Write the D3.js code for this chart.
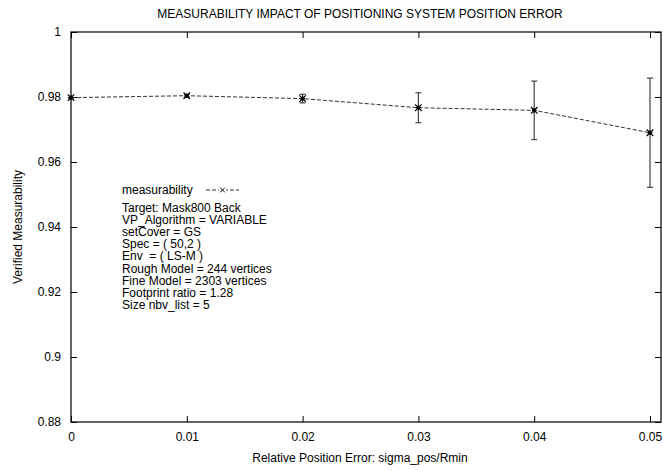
<!DOCTYPE html>
<html>
<head>
<meta charset="utf-8">
<script src="https://cdn.jsdelivr.net/npm/d3@7"></script>
<style>
  body { margin: 0; background: #fff; }
  text { font-family: "Liberation Sans", Arial, sans-serif; fill: #000; }
</style>
</head>
<body>
<script>
// data
var xVals = [0, 0.01, 0.02, 0.03, 0.04, 0.05];
var yVals = [0.9798, 0.9804, 0.9795, 0.9767, 0.9759, 0.9690];
var yErr  = [0.0001, 0.0004, 0.0013, 0.0046, 0.0090, 0.0168];
var xTicks = [0, 0.01, 0.02, 0.03, 0.04, 0.05];
var yTicks = [0.88, 0.9, 0.92, 0.94, 0.96, 0.98, 1];
var notes = ["Target: Mask800 Back", "VP_Algorithm = VARIABLE", "setCover = GS",
             "Spec = ( 50,2 )", "Env  = ( LS-M )", "Rough Model = 244 vertices",
             "Fine Model = 2303 vertices", "Footprint ratio = 1.28", "Size nbv_list = 5"];

var width = 663, height = 470;
var margin = {left: 71, right: 2, top: 32, bottom: 48};
var w = width - margin.left - margin.right;
var h = height - margin.top - margin.bottom;

var svg = d3.select("body").append("svg")
            .attr("width", width).attr("height", height);

var x = d3.scaleLinear().domain([0, 0.05095]).range([0, w]);
var y = d3.scaleLinear().domain([0.88, 1]).range([h, 0]);

var g = svg.append("g")
           .attr("transform", "translate(" + margin.left + "," + margin.top + ")");

function fmt(d) { return d === 0 ? "0" : d3.format("")(+d.toFixed(2)); }

var xAxis = d3.axisBottom(x).tickValues(xTicks).tickSize(-6).tickPadding(10).tickFormat(fmt);
var yAxis = d3.axisLeft(y).tickValues(yTicks).tickSize(-6).tickPadding(10).tickFormat(fmt);

g.append("g").attr("transform", "translate(0," + h + ")").call(xAxis);
g.append("g").call(yAxis);
// mirrored ticks on top and right
g.append("g").call(d3.axisTop(x).tickValues(xTicks).tickSize(-6).tickFormat(""));
g.append("g").attr("transform", "translate(" + w + ",0)")
 .call(d3.axisRight(y).tickValues(yTicks).tickSize(-6).tickFormat(""));

g.selectAll(".domain").remove();
g.selectAll(".tick line").attr("stroke", "#000");
g.selectAll(".tick text").attr("font-size", 12).attr("font-family", "Liberation Sans, Arial, sans-serif");

g.append("rect").attr("width", w).attr("height", h)
 .attr("fill", "none").attr("stroke", "#000").attr("stroke-width", 1.2);

// dashed line through points
var pts = xVals.map(function(d, i) { return [d, yVals[i], yErr[i]]; });
var line = d3.line().x(function(d){ return x(d[0]); }).y(function(d){ return y(d[1]); });
g.append("path").attr("d", line(pts)).attr("fill", "none")
 .attr("stroke", "#333").attr("stroke-width", 1).attr("stroke-dasharray", "4,2");

// error bars
var eb = g.selectAll(".eb").data(pts).enter().append("g");
eb.append("line")
  .attr("x1", function(d){ return x(d[0]); }).attr("x2", function(d){ return x(d[0]); })
  .attr("y1", function(d){ return y(d[1] - d[2]); }).attr("y2", function(d){ return y(d[1] + d[2]); })
  .attr("stroke", "#444").attr("stroke-width", 1.2);
[-1, 1].forEach(function(s) {
  eb.append("line")
    .attr("x1", function(d){ return x(d[0]) - 3; }).attr("x2", function(d){ return x(d[0]) + 3; })
    .attr("y1", function(d){ return y(d[1] + s * d[2]); }).attr("y2", function(d){ return y(d[1] + s * d[2]); })
    .attr("stroke", "#444").attr("stroke-width", 1.2);
});

// star markers
var star = d3.symbol().type(d3.symbolTimes).size(30);
g.selectAll(".pt").data(pts).enter().append("path")
 .attr("d", star)
 .attr("transform", function(d){ return "translate(" + x(d[0]) + "," + y(d[1]) + ")"; })
 .attr("fill", "none").attr("stroke", "#000").attr("stroke-width", 1.2);
g.selectAll(".pt2").data(pts).enter().append("path")
 .attr("d", d3.symbol().type(d3.symbolCross).size(12))
 .attr("transform", function(d){ return "translate(" + x(d[0]) + "," + y(d[1]) + ")"; })
 .attr("fill", "#000");

// legend
svg.append("text").attr("x", 122).attr("y", 194).attr("font-size", 12).text("measurability");
svg.append("line").attr("x1", 206).attr("x2", 239).attr("y1", 190).attr("y2", 190)
   .attr("stroke", "#333").attr("stroke-dasharray", "4,2");
svg.append("rect").attr("x", 219).attr("y", 186).attr("width", 7).attr("height", 8).attr("fill", "#fff");
svg.append("path").attr("d", d3.symbol().type(d3.symbolTimes).size(16))
   .attr("transform", "translate(222.5,190)").attr("fill", "none")
   .attr("stroke", "#000").attr("stroke-width", 1);

// notes
svg.selectAll(".note").data(notes).enter().append("text")
   .attr("x", 122).attr("y", function(d, i){ return 212 + i * 12.1; })
   .attr("font-size", 12).style("white-space", "pre").text(function(d){ return d; });

// titles
svg.append("text").attr("x", 360).attr("y", 18).attr("text-anchor", "middle")
   .attr("font-size", 12).text("MEASURABILITY IMPACT OF POSITIONING SYSTEM POSITION ERROR");
svg.append("text").attr("x", 360).attr("y", 462).attr("text-anchor", "middle")
   .attr("font-size", 12).text("Relative Position Error: sigma_pos/Rmin");
svg.append("text").attr("transform", "translate(22,227) rotate(-90)").attr("text-anchor", "middle")
   .attr("font-size", 12).text("Verified Measurability");
</script>
</body>
</html>
